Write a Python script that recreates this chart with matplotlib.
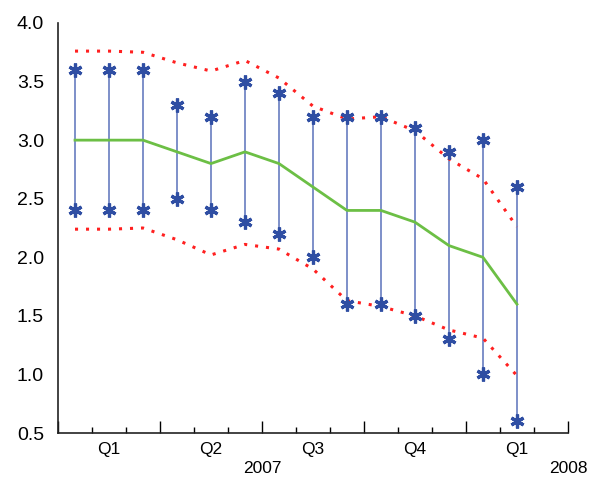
import matplotlib
matplotlib.use("Agg")
import matplotlib.pyplot as plt
import numpy as np

plt.rcParams["font.family"] = ["Liberation Sans", "DejaVu Sans"]

# monthly, Jan 2007 .. Feb 2008
central = [3.0, 3.0, 3.0, 2.9, 2.8, 2.9, 2.8, 2.6, 2.4, 2.4, 2.3, 2.1, 2.0, 1.6]
high = [3.6, 3.6, 3.6, 3.3, 3.2, 3.5, 3.4, 3.2, 3.2, 3.2, 3.1, 2.9, 3.0, 2.6]
low = [2.4, 2.4, 2.4, 2.5, 2.4, 2.3, 2.2, 2.0, 1.6, 1.6, 1.5, 1.3, 1.0, 0.6]
band_up = [3.76, 3.76, 3.75, 3.66, 3.59, 3.68, 3.53, 3.29, 3.18, 3.2, 3.08, 2.84, 2.67, 2.26]
band_lo = [2.24, 2.24, 2.25, 2.15, 2.02, 2.11, 2.07, 1.9, 1.63, 1.58, 1.5, 1.38, 1.31, 0.99]
quarters = ["Q1", "Q2", "Q3", "Q4", "Q1"]
years = ["2007", "2008"]

x = np.arange(len(central))
fig = plt.figure(figsize=(5.95, 4.79), dpi=100)
ax = fig.add_axes([0.0975, 0.096, 0.857, 0.856])

blue = "#2f4ea3"
ax.vlines(x, low, high, color="#5a72bb", lw=1.1, zorder=2)
ax.plot(x, high, ls="none", marker=(6, 2, 0), ms=10, mew=2.3, color=blue, zorder=4)
ax.plot(x, low, ls="none", marker=(6, 2, 0), ms=10, mew=2.3, color=blue, zorder=4)
ax.plot(x, central, color="#6cbf45", lw=2, zorder=3)
ax.plot(x, band_up, color="#ff2020", lw=2.2, ls=(0, (1, 2.6)), zorder=3)
ax.plot(x, band_lo, color="#ff2020", lw=2.2, ls=(0, (1, 2.6)), zorder=3)

ax.set_xlim(-0.5, 14.5)
ax.set_ylim(0.5, 4.0)
ax.set_yticks(np.arange(0.5, 4.01, 0.5))
ax.set_yticklabels([f"{v:.1f}" for v in np.arange(0.5, 4.01, 0.5)], fontsize=14)
ax.tick_params(axis="y", length=0, pad=10)

ax.set_xticks([-0.5, 2.5, 5.5, 8.5, 11.5, 14.5])
ax.set_xticks(np.arange(-0.5, 14.6, 1), minor=True)
ax.set_xticklabels([])
ax.tick_params(axis="x", which="major", direction="in", length=9, width=1)
ax.tick_params(axis="x", which="minor", direction="in", length=4, width=1)

for sp in ["top", "right"]:
    ax.spines[sp].set_visible(False)
for sp in ["left", "bottom"]:
    ax.spines[sp].set_color("#222222")
    ax.spines[sp].set_linewidth(1.2)

trans = ax.get_xaxis_transform()
for i, q in enumerate(quarters):
    ax.text(1 + 3 * i, -0.022, q, transform=trans, ha="center", va="top", fontsize=12.5)
ax.text(5.5, -0.068, years[0], transform=trans, ha="center", va="top", fontsize=12.5)
ax.text(14.5, -0.068, years[1], transform=trans, ha="center", va="top", fontsize=12.5)

fig.savefig("out.png", dpi=100)
